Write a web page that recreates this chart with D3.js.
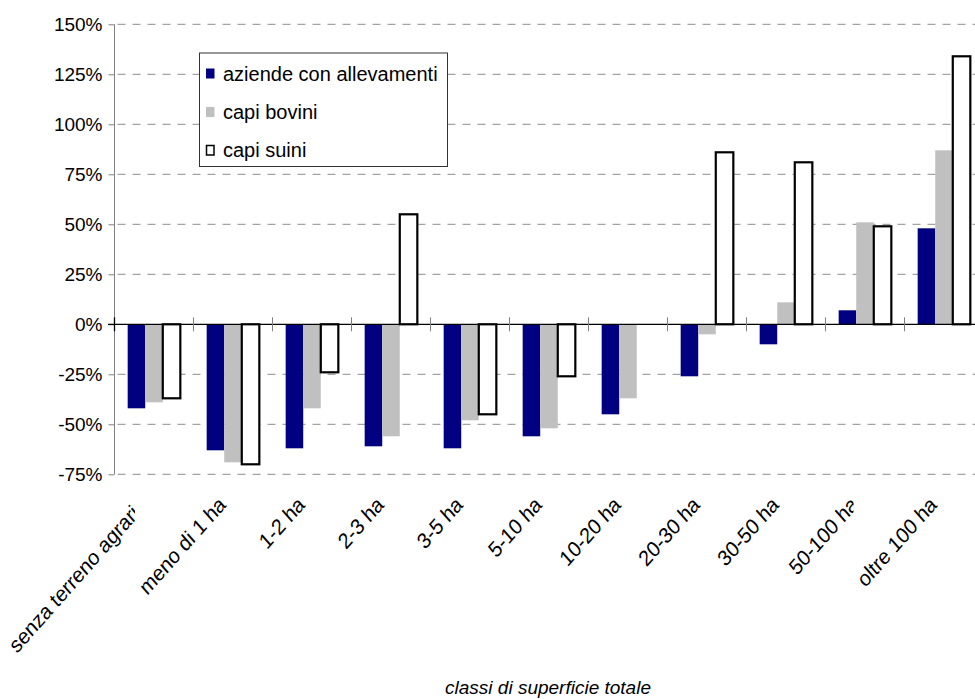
<!DOCTYPE html>
<html>
<head>
<meta charset="utf-8">
<script src="https://cdn.jsdelivr.net/npm/d3@7"></script>
<style>
  html, body { margin: 0; padding: 0; background: #fff; }
  svg { display: block; font-family: "Liberation Sans", Arial, sans-serif; }
</style>
</head>
<body>
<svg id="chart" width="975" height="699"></svg>
<script>
// Size classes (classi di superficie totale)
const categories = [
  "senza terreno agrario", "meno di 1 ha", "1-2 ha", "2-3 ha", "3-5 ha",
  "5-10 ha", "10-20 ha", "20-30 ha", "30-50 ha", "50-100 ha", "oltre 100 ha"
];
// Percentage change by size class
const aziende = [-42, -63, -62, -61, -62, -56, -45, -26, -10, 7, 48];
const bovini  = [-39, -69, -42, -56, -48, -52, -37, -5, 11, 51, 87];
const suini   = [-37, -70, -24, 55, -45, -26, null, 86, 81, 49, 134];

const seriesNames = ["aziende con allevamenti", "capi bovini", "capi suini"];
const yTicks = [-75, -50, -25, 0, 25, 50, 75, 100, 125, 150];
const axisTitle = "classi di superficie totale";

const colors = { fill: ["#000080", "#c0c0c0", "#ffffff"] };

const svg = d3.select("#chart");
const plot = { left: 114.5, top: 24.3, bottom: 474.3, right: 114.5 + 79 * 11 };

const y = d3.scaleLinear().domain([-75, 150]).range([plot.bottom, plot.top]);
const x0 = d3.scaleBand().domain(categories).range([plot.left, plot.right])
  .paddingInner(0).paddingOuter(0);
const x1 = d3.scaleBand().domain(d3.range(3)).range([0, x0.bandwidth()])
  .paddingInner(0).paddingOuter(0.75);

// Dashed gridlines
svg.append("g").selectAll("line")
  .data(yTicks.filter(d => d !== 0))
  .join("line")
  .attr("x1", plot.left).attr("x2", plot.right)
  .attr("y1", d => y(d)).attr("y2", d => y(d))
  .attr("stroke", "#8c8c8c").attr("stroke-width", 1)
  .attr("stroke-dasharray", "8,7")
  .attr("stroke-dashoffset", -3);

// Y axis
const yAxis = d3.axisLeft(y).tickValues(yTicks).tickSize(6).tickPadding(6)
  .tickFormat(d => d + "%");
const gy = svg.append("g").attr("transform", `translate(${plot.left},0)`).call(yAxis);
gy.select(".domain").attr("stroke", "#808080").attr("d", `M-0,${plot.top}V${plot.bottom}`);
gy.selectAll(".tick line").attr("stroke", "#808080");
gy.selectAll(".tick text")
  .attr("font-size", 19).attr("fill", "#000")
  .attr("font-family", "'Liberation Sans', Arial, sans-serif");

// Bars
const series = [aziende, bovini, suini];
const groups = svg.append("g").selectAll("g")
  .data(categories)
  .join("g")
  .attr("transform", d => `translate(${x0(d)},0)`);

groups.selectAll("rect")
  .data((c, i) => series.map((s, k) => ({ k, v: s[i] })).filter(d => d.v !== null))
  .join("rect")
  .attr("x", d => x1(d.k))
  .attr("width", x1.bandwidth())
  .attr("y", d => y(Math.max(0, d.v)))
  .attr("height", d => Math.abs(y(d.v) - y(0)))
  .attr("fill", d => colors.fill[d.k])
  .attr("stroke", d => d.k === 2 ? "#000" : "none")
  .attr("stroke-width", 2.2);

// Category axis at zero with crossing ticks
svg.append("line")
  .attr("x1", 108).attr("x2", plot.right)
  .attr("y1", y(0)).attr("y2", y(0))
  .attr("stroke", "#000").attr("stroke-width", 1.3);
svg.append("g").selectAll("line")
  .data(categories.slice(1).concat(["end"]))
  .join("line")
  .attr("x1", (d, i) => plot.left + x0.step() * (i + 1))
  .attr("x2", (d, i) => plot.left + x0.step() * (i + 1))
  .attr("y1", y(0) - 7).attr("y2", y(0) + 7)
  .attr("stroke", "#808080").attr("stroke-width", 1);
svg.append("line")
  .attr("x1", plot.left).attr("x2", plot.left)
  .attr("y1", y(0) - 7).attr("y2", y(0) + 7)
  .attr("stroke", "#000").attr("stroke-width", 1.3);

// Rotated category labels (two of them are cut at the side)
const clipLimits = { 0: 135, 9: 853.5 };
const defs = svg.append("defs");
Object.entries(clipLimits).forEach(([i, xr]) => {
  defs.append("clipPath").attr("id", "clip" + i)
    .append("rect").attr("x", 0).attr("y", 400).attr("width", xr).attr("height", 300);
});
const labels = svg.append("g").selectAll("g")
  .data(categories)
  .join("g")
  .attr("clip-path", (d, i) => clipLimits[i] !== undefined ? `url(#clip${i})` : null);
labels.append("text")
  .attr("transform", d => `translate(${x0(d) + x0.bandwidth() / 2 - 6},506) scale(1,1.13) rotate(-45)`)
  .attr("text-anchor", "end")
  .attr("font-size", 19.5)
  .attr("fill", "#000")
  .text(d => d);

// Axis title
svg.append("text")
  .attr("x", 548).attr("y", 694)
  .attr("text-anchor", "middle")
  .attr("font-size", 19).attr("font-style", "italic")
  .text(axisTitle);

// Legend
const legend = svg.append("g");
legend.append("rect")
  .attr("x", 199.5).attr("y", 53).attr("width", 248).attr("height", 113.5)
  .attr("fill", "#fff").attr("stroke", "#333").attr("stroke-width", 1);
const rowY = [73.5, 112, 150];
const items = legend.selectAll("g.item")
  .data(seriesNames)
  .join("g").attr("class", "item")
  .attr("transform", (d, i) => `translate(0,${rowY[i]})`);
items.append("rect")
  .attr("x", (d, i) => i === 2 ? 206.5 : 206)
  .attr("y", (d, i) => i === 2 ? -4.5 : -5)
  .attr("width", (d, i) => i === 2 ? 7.5 : 8.5)
  .attr("height", (d, i) => i === 2 ? 9.5 : 10)
  .attr("fill", (d, i) => colors.fill[i])
  .attr("stroke", (d, i) => i === 2 ? "#000" : "none")
  .attr("stroke-width", 1.5);
items.append("text")
  .attr("x", 223).attr("y", 7)
  .attr("font-size", 20).attr("fill", "#000")
  .text(d => d);
</script>
</body>
</html>
